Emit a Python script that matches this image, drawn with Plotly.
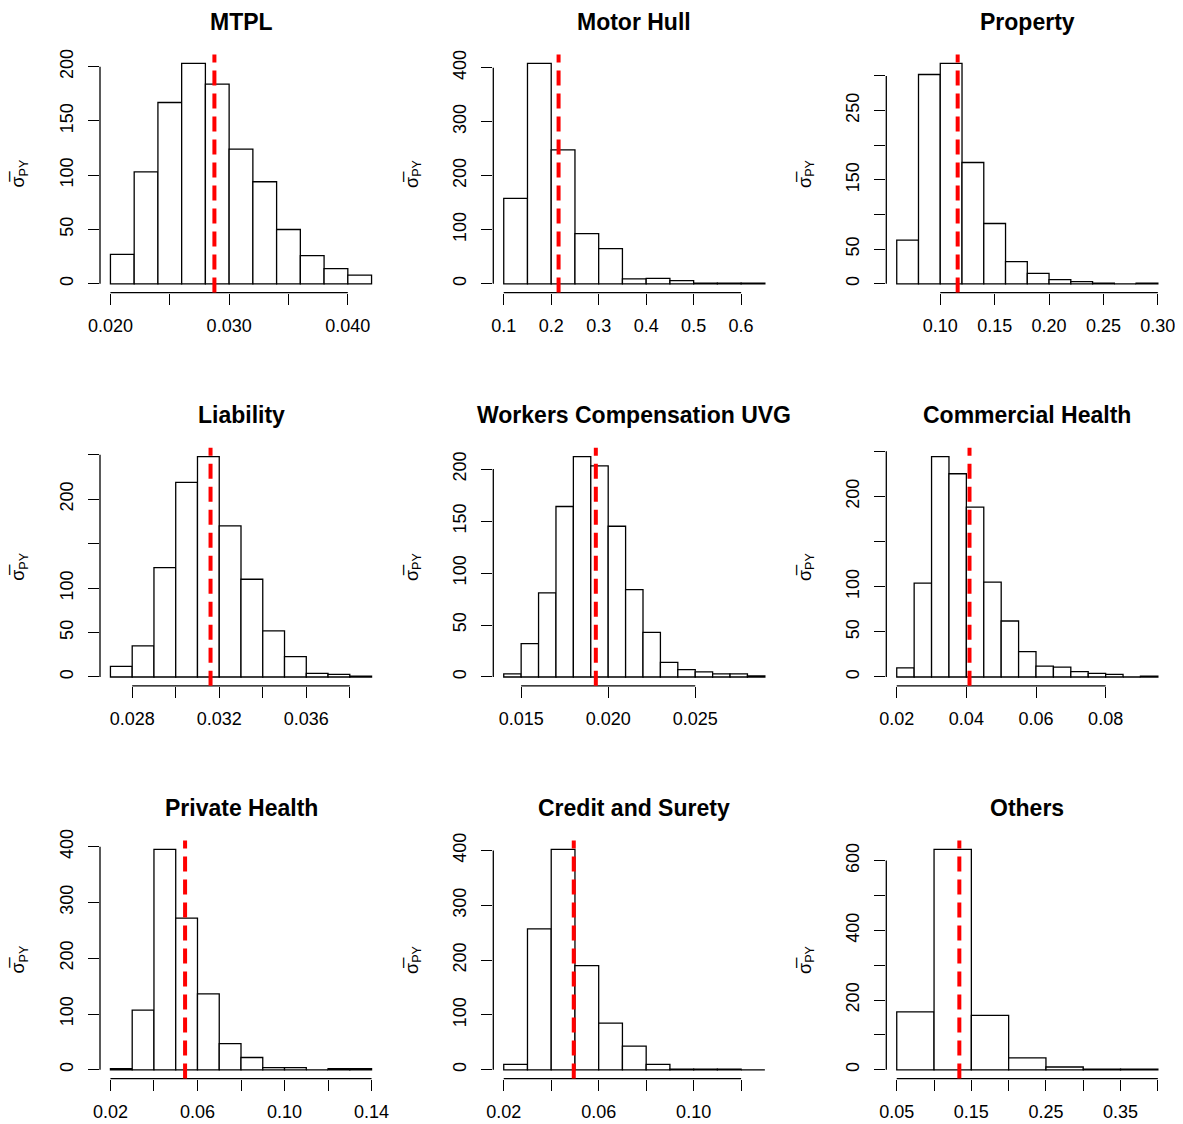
import plotly.graph_objects as go

# ---------------- data ----------------
titles = ["MTPL", "Motor Hull", "Property",
          "Liability", "Workers Compensation UVG", "Commercial Health",
          "Private Health", "Credit and Surety", "Others"]

bin_starts = [0.020, 0.10, 0.06, 0.027, 0.014, 0.020, 0.02, 0.02, 0.05]
bin_widths = [0.002, 0.05, 0.02, 0.001, 0.001, 0.005, 0.01, 0.01, 0.05]

counts_mtpl = [27, 103, 167, 203, 184, 124, 94, 50, 26, 14, 8]
counts_motor = [158, 408, 248, 93, 65, 9, 10, 6, 1, 1, 1]
counts_property = [63, 302, 318, 175, 87, 32, 15, 6, 3, 1, 0, 1]
counts_liability = [12, 35, 123, 219, 248, 170, 110, 52, 23, 4, 3, 1]
counts_workers = [3, 32, 81, 164, 212, 203, 145, 84, 43, 14, 7, 5, 3, 3, 1]
counts_commercial = [10, 104, 244, 225, 188, 105, 62, 28, 12, 11, 6, 4, 3, 0, 1]
counts_private = [2, 107, 395, 272, 136, 47, 22, 4, 4, 0, 2, 2]
counts_credit = [10, 257, 402, 190, 85, 43, 10, 1, 1, 1, 0]
counts_others = [166, 632, 156, 34, 8, 2, 2]

means = [0.02876, 0.2155, 0.116, 0.0316, 0.01929, 0.0409, 0.0543, 0.0495, 0.1339]

xticks_mtpl = [0.020, 0.025, 0.030, 0.035, 0.040]
xlabels_mtpl = ["0.020", "", "0.030", "", "0.040"]
xticks_motor = [0.1, 0.2, 0.3, 0.4, 0.5, 0.6]
xlabels_motor = ["0.1", "0.2", "0.3", "0.4", "0.5", "0.6"]
xticks_property = [0.10, 0.15, 0.20, 0.25, 0.30]
xlabels_property = ["0.10", "0.15", "0.20", "0.25", "0.30"]
xticks_liability = [0.028, 0.030, 0.032, 0.034, 0.036, 0.038]
xlabels_liability = ["0.028", "", "0.032", "", "0.036", ""]
xticks_workers = [0.015, 0.020, 0.025]
xlabels_workers = ["0.015", "0.020", "0.025"]
xticks_commercial = [0.02, 0.04, 0.06, 0.08]
xlabels_commercial = ["0.02", "0.04", "0.06", "0.08"]
xticks_private = [0.02, 0.04, 0.06, 0.08, 0.10, 0.12, 0.14]
xlabels_private = ["0.02", "", "0.06", "", "0.10", "", "0.14"]
xticks_credit = [0.02, 0.04, 0.06, 0.08, 0.10, 0.12]
xlabels_credit = ["0.02", "", "0.06", "", "0.10", ""]
xticks_others = [0.05, 0.10, 0.15, 0.20, 0.25, 0.30, 0.35, 0.40]
xlabels_others = ["0.05", "", "0.15", "", "0.25", "", "0.35", ""]

yticks_mtpl = [0, 50, 100, 150, 200]
ylabels_mtpl = ["0", "50", "100", "150", "200"]
yticks_motor = [0, 100, 200, 300, 400]
ylabels_motor = ["0", "100", "200", "300", "400"]
yticks_property = [0, 50, 100, 150, 200, 250, 300]
ylabels_property = ["0", "50", "", "150", "", "250", ""]
yticks_liability = [0, 50, 100, 150, 200, 250]
ylabels_liability = ["0", "50", "100", "", "200", ""]
yticks_workers = [0, 50, 100, 150, 200]
ylabels_workers = ["0", "50", "100", "150", "200"]
yticks_commercial = [0, 50, 100, 150, 200, 250]
ylabels_commercial = ["0", "50", "100", "", "200", ""]
yticks_private = [0, 100, 200, 300, 400]
ylabels_private = ["0", "100", "200", "300", "400"]
yticks_credit = [0, 100, 200, 300, 400]
ylabels_credit = ["0", "100", "200", "300", "400"]
yticks_others = [0, 100, 200, 300, 400, 500, 600]
ylabels_others = ["0", "", "200", "", "400", "", "600"]

ylabel_text = "σ\u0305<sub>PY</sub>"

all_counts = [counts_mtpl, counts_motor, counts_property, counts_liability, counts_workers,
              counts_commercial, counts_private, counts_credit, counts_others]
all_xticks = [xticks_mtpl, xticks_motor, xticks_property, xticks_liability, xticks_workers,
              xticks_commercial, xticks_private, xticks_credit, xticks_others]
all_xlabels = [xlabels_mtpl, xlabels_motor, xlabels_property, xlabels_liability, xlabels_workers,
               xlabels_commercial, xlabels_private, xlabels_credit, xlabels_others]
all_yticks = [yticks_mtpl, yticks_motor, yticks_property, yticks_liability, yticks_workers,
              yticks_commercial, yticks_private, yticks_credit, yticks_others]
all_ylabels = [ylabels_mtpl, ylabels_motor, ylabels_property, ylabels_liability, ylabels_workers,
               ylabels_commercial, ylabels_private, ylabels_credit, ylabels_others]

# ---------------- layout geometry ----------------
# page body has an 8px margin, so positions are shifted by 8px inside the figure
OFF = 8.0
W, H = 1183, 1124
col_left = [100.0 - OFF, 493.3 - OFF, 886.3 - OFF]
plot_w = 282.0
row_top = [54.6 - OFF, 447.8 - OFF, 840.6 - OFF]
plot_h = 238.0
FONT = "Liberation Sans, Arial, Helvetica, sans-serif"
LW = 1.3

fig = go.Figure()
layout = dict(template="none", width=W, height=H, autosize=False,
              margin=dict(l=0, r=0, t=0, b=0, pad=0),
              paper_bgcolor="white", plot_bgcolor="white", showlegend=False)
shapes = []
annotations = []

for i in range(9):
    r, c = divmod(i, 3)
    n = i + 1
    xa = "xaxis" if n == 1 else f"xaxis{n}"
    ya = "yaxis" if n == 1 else f"yaxis{n}"
    xr = "x" if n == 1 else f"x{n}"
    yr = "y" if n == 1 else f"y{n}"

    counts = all_counts[i]
    b0, bw = bin_starts[i], bin_widths[i]
    nb = len(counts)
    edges = [b0 + k * bw for k in range(nb + 1)]
    centers = [b0 + (k + 0.5) * bw for k in range(nb)]
    span = edges[-1] - edges[0]
    xrng = [edges[0] - 0.04 * span, edges[-1] + 0.04 * span]
    ymax = max(counts)
    yrng = [-0.04 * ymax, 1.04 * ymax]

    fig.add_trace(go.Bar(x=centers, y=counts, width=[bw] * nb, xaxis=xr, yaxis=yr,
                         marker=dict(color="white", line=dict(color="black", width=LW)),
                         hoverinfo="x+y"))

    x0p = col_left[c] / W
    x1p = (col_left[c] + plot_w) / W
    y1p = 1 - row_top[r] / H
    y0p = 1 - (row_top[r] + plot_h) / H

    layout[xa] = dict(domain=[x0p, x1p], anchor=yr, range=xrng, showgrid=False,
                      zeroline=False, showline=False, ticks="outside", ticklen=11,
                      tickwidth=LW, tickcolor="black", tickmode="array",
                      tickvals=all_xticks[i], ticktext=all_xlabels[i], automargin=False,
                      tickfont=dict(family=FONT, size=18, color="black"),
                      ticklabelstandoff=6)
    layout[ya] = dict(domain=[y0p, y1p], anchor=xr, range=yrng, showgrid=False,
                      zeroline=False, showline=False, ticks="outside", ticklen=11,
                      tickwidth=LW, tickcolor="black", tickmode="array",
                      tickvals=all_yticks[i], ticktext=all_ylabels[i], tickangle=-90,
                      automargin=False,
                      tickfont=dict(family=FONT, size=18, color="black"),
                      ticklabelstandoff=8)

    # R-style axis lines spanning first to last tick
    shapes.append(dict(type="line", xref=f"{xr} domain", yref=yr, x0=0, x1=0,
                       y0=all_yticks[i][0], y1=all_yticks[i][-1],
                       line=dict(color="black", width=LW)))
    shapes.append(dict(type="line", xref=xr, yref=f"{yr} domain", y0=0, y1=0,
                       x0=all_xticks[i][0], x1=all_xticks[i][-1],
                       line=dict(color="black", width=LW)))
    # mean line
    shapes.append(dict(type="line", xref=xr, yref=f"{yr} domain", x0=means[i], x1=means[i],
                       y0=0, y1=1, line=dict(color="red", width=4, dash="15px,8px")))

    # title
    annotations.append(dict(text=f"<b>{titles[i]}</b>", xref="paper", yref="paper",
                            x=(col_left[c] + plot_w / 2) / W, y=1 - (row_top[r] - 32.6) / H,
                            xanchor="center", yanchor="middle", showarrow=False,
                            font=dict(family=FONT, size=23, color="black")))
    # y label
    annotations.append(dict(text=ylabel_text, xref="paper", yref="paper",
                            x=(col_left[c] - 80) / W, y=1 - (row_top[r] + plot_h / 2) / H,
                            xanchor="center", yanchor="middle", showarrow=False, textangle=-90,
                            font=dict(family=FONT, size=18, color="black")))

layout["shapes"] = shapes
layout["annotations"] = annotations
fig.update_layout(**layout)
fig.write_html("out.html")
